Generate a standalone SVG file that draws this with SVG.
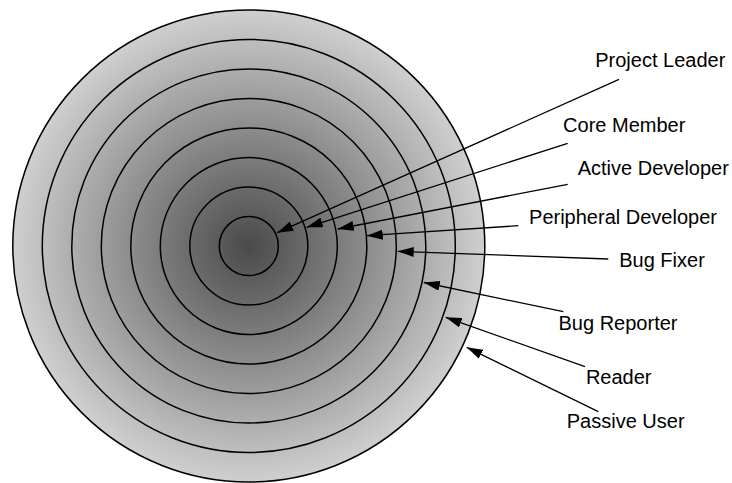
<svg xmlns="http://www.w3.org/2000/svg" width="732" height="483" viewBox="0 0 732 483">
  <defs>
    <radialGradient id="shade" cx="248.8" cy="246" r="236" gradientUnits="userSpaceOnUse">
      <stop offset="0" stop-color="#4a4a4a"/>
      <stop offset="1" stop-color="#cfcfcf"/>
    </radialGradient>
    <marker id="head" viewBox="0 0 16 10" refX="16" refY="5" markerWidth="16" markerHeight="10" markerUnits="userSpaceOnUse" orient="auto">
      <path d="M0,0 L16,5 L0,10 Z" fill="#000"/>
    </marker>
  </defs>
  <style>
    .ring { fill: none; stroke: #000; stroke-width: 1.5; }
    .lbl { font-family: "Liberation Sans", Arial, Helvetica, sans-serif; font-size: 20px; fill: #000; text-anchor: middle; }
    .arr { stroke: #000; stroke-width: 1.3; fill: none; marker-end: url(#head); }
  </style>
  <rect width="732" height="483" fill="#fff"/>

  <!-- concentric rings, outermost first -->
  <g id="rings">
    <circle id="ring-passive-user" cx="248.8" cy="246" r="236" fill="url(#shade)" stroke="#000" stroke-width="1.5"/>
    <circle id="ring-reader" class="ring" cx="248.8" cy="246" r="206.5"/>
    <circle id="ring-bug-reporter" class="ring" cx="248.8" cy="246" r="177"/>
    <circle id="ring-bug-fixer" class="ring" cx="248.8" cy="246" r="147.5"/>
    <circle id="ring-peripheral-developer" class="ring" cx="248.8" cy="246" r="118"/>
    <circle id="ring-active-developer" class="ring" cx="248.8" cy="246" r="88.5"/>
    <circle id="ring-core-member" class="ring" cx="248.8" cy="246" r="59"/>
    <circle id="ring-project-leader" class="ring" cx="248.8" cy="246" r="29.5"/>
  </g>

  <!-- pointers from each label to its ring -->
  <g id="connectors">
    <line class="arr" x1="619" y1="79.3" x2="277.3" y2="232.7"/>
    <line class="arr" x1="567.7" y1="143.3" x2="306.7" y2="227.3"/>
    <line class="arr" x1="567.7" y1="184.3" x2="337.7" y2="229"/>
    <line class="arr" x1="518.3" y1="225.7" x2="366.7" y2="235.7"/>
    <line class="arr" x1="608.3" y1="259" x2="397.7" y2="251.3"/>
    <line class="arr" x1="563.3" y1="311.7" x2="423.8" y2="282.5"/>
    <line class="arr" x1="585" y1="366.7" x2="445.7" y2="317.3"/>
    <line class="arr" x1="598.3" y1="411.7" x2="466.7" y2="347.3"/>
  </g>

  <g id="label-project-leader"><text class="lbl" x="660.3" y="67.3">Project Leader</text></g>
  <g id="label-core-member"><text class="lbl" x="624.2" y="131.7">Core Member</text></g>
  <g id="label-active-developer"><text class="lbl" x="653.3" y="175">Active Developer</text></g>
  <g id="label-peripheral-developer"><text class="lbl" x="623" y="224.3">Peripheral Developer</text></g>
  <g id="label-bug-fixer"><text class="lbl" x="662" y="267.3">Bug Fixer</text></g>
  <g id="label-bug-reporter"><text class="lbl" x="618" y="330">Bug Reporter</text></g>
  <g id="label-reader"><text class="lbl" x="618.7" y="384">Reader</text></g>
  <g id="label-passive-user"><text class="lbl" x="625.7" y="428.3">Passive User</text></g>
</svg>
